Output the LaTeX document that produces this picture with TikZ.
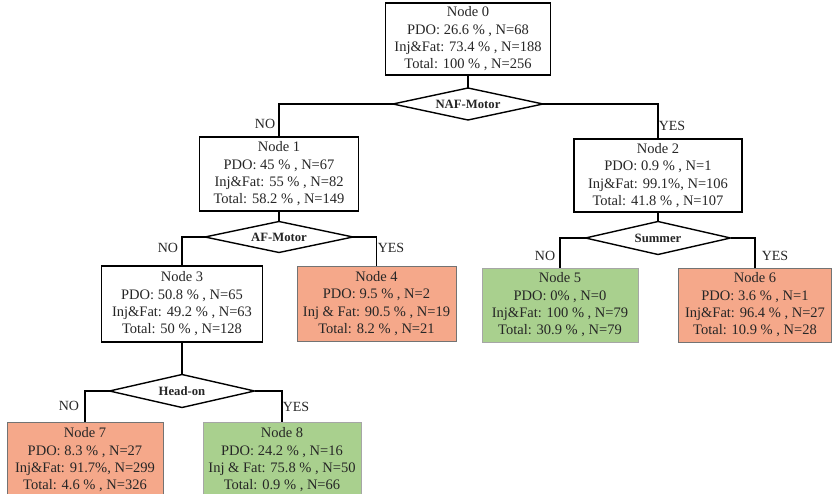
\documentclass[tikz,border=0pt]{standalone}
\usepackage{fontspec}
\setmainfont{Liberation Serif}
\definecolor{salmon}{RGB}{245,168,138}
\definecolor{leafgreen}{RGB}{169,208,142}
\begin{document}
\begin{tikzpicture}[x=1pt,y=-1pt,
 box/.style={draw=black, line width=1.8pt, rectangle, align=center, font=\fontsize{14.5}{17.3}\selectfont, inner sep=0pt, text=black!85},
 leafA/.style={box, fill=salmon, draw=black!55, line width=0.8pt},
 leafB/.style={box, fill=leafgreen, draw=black!35, line width=0.8pt},
 split/.style={rectangle, inner sep=0pt, outer sep=0pt, font=\bfseries\fontsize{12.7}{14}\selectfont, text=black!85},
 splitline/.style={draw=black, line width=1.4pt, fill=white, line join=miter},
 conn/.style={line width=1.4pt},
 lbl/.style={font=\fontsize{14}{16}\selectfont, text=black!85, inner sep=0pt}]
\useasboundingbox[fill=white] (0,0) rectangle (833,494);

\node[box, minimum width=165pt, minimum height=72pt] (n0) at (468,39) {Node 0\\PDO: 26.6 \% , N=68\\Inj\&Fat: 73.4 \% , N=188\\Total: 100 \% , N=256};
\node[box, minimum width=159pt, minimum height=74pt] (n1) at (279,174) {Node 1\\PDO: 45 \% , N=67\\Inj\&Fat: 55 \% , N=82\\Total: 58.2 \% , N=149};
\node[box, minimum width=168pt, minimum height=73pt] (n2) at (658,175.5) {Node 2\\PDO: 0.9 \% , N=1\\Inj\&Fat: 99.1\%, N=106\\Total: 41.8 \% , N=107};
\node[box, minimum width=161pt, minimum height=76pt] (n3) at (182,304) {Node 3\\PDO: 50.8 \% , N=65\\Inj\&Fat: 49.2 \% , N=63\\Total: 50 \% , N=128};
\node[leafA, minimum width=159pt, minimum height=75pt] (n4) at (376.5,303.5) {Node 4\\PDO: 9.5 \% , N=2\\Inj \& Fat: 90.5 \% , N=19\\Total: 8.2 \% , N=21};
\node[leafB, minimum width=156pt, minimum height=74pt] (n5) at (560,305) {Node 5\\PDO: 0\% , N=0\\Inj\&Fat: 100 \% , N=79\\Total: 30.9 \% , N=79};
\node[leafA, minimum width=153pt, minimum height=74pt] (n6) at (755,305) {Node 6\\PDO: 3.6 \% , N=1\\Inj\&Fat: 96.4 \% , N=27\\Total: 10.9 \% , N=28};
\node[leafA, minimum width=156pt, minimum height=76pt] (n7) at (85,460) {Node 7\\PDO: 8.3 \% , N=27\\Inj\&Fat: 91.7\%, N=299\\Total: 4.6 \% , N=326};
\node[leafB, minimum width=158pt, minimum height=76pt] (n8) at (282,460) {Node 8\\PDO: 24.2 \% , N=16\\Inj \& Fat: 75.8 \% , N=50\\Total: 0.9 \% , N=66};

% split nodes (diamonds drawn on their anchors)
\node[split, minimum width=150pt, minimum height=32pt] (d0) at (468,104) {};
\node[split, minimum width=148pt, minimum height=31pt] (d1) at (279,237) {};
\node[split, minimum width=145pt, minimum height=33pt] (d2) at (658,238) {};
\node[split, minimum width=145pt, minimum height=33pt] (d3) at (182,391) {};

\draw[conn] (n0.south) -- (d0.north);
\draw[conn] (d0.west) -| (n1.north);
\draw[conn] (d0.east) -| (n2.north);
\draw[conn] (n1.south) -- (d1.north);
\draw[conn] (d1.west) -| (n3.north);
\draw[conn] (d1.east) -| (n4.north);
\draw[conn] (n2.south) -- (d2.north);
\draw[conn] (d2.west) -| (n5.north);
\draw[conn] (d2.east) -| (n6.north);
\draw[conn] (n3.south) -- (d3.north);
\draw[conn] (d3.west) -| (n7.north);
\draw[conn] (d3.east) -| (n8.north);

\foreach \d/\t in {d0/NAF-Motor, d1/AF-Motor, d2/Summer, d3/Head-on}{
  \draw[splitline] (\d.north) -- (\d.east) -- (\d.south) -- (\d.west) -- cycle;
  \node[split] at (\d.center) {\t};
}

\node[lbl] (l0n) at (265,124) {NO};
\node[lbl] (l0y) at (672,126) {YES};
\node[lbl] (l1n) at (168,248) {NO};
\node[lbl] (l1y) at (391,248) {YES};
\node[lbl] (l2n) at (545,256) {NO};
\node[lbl] (l2y) at (775,256) {YES};
\node[lbl] (l3n) at (69,406) {NO};
\node[lbl] (l3y) at (296,407) {YES};
\end{tikzpicture}
\end{document}
